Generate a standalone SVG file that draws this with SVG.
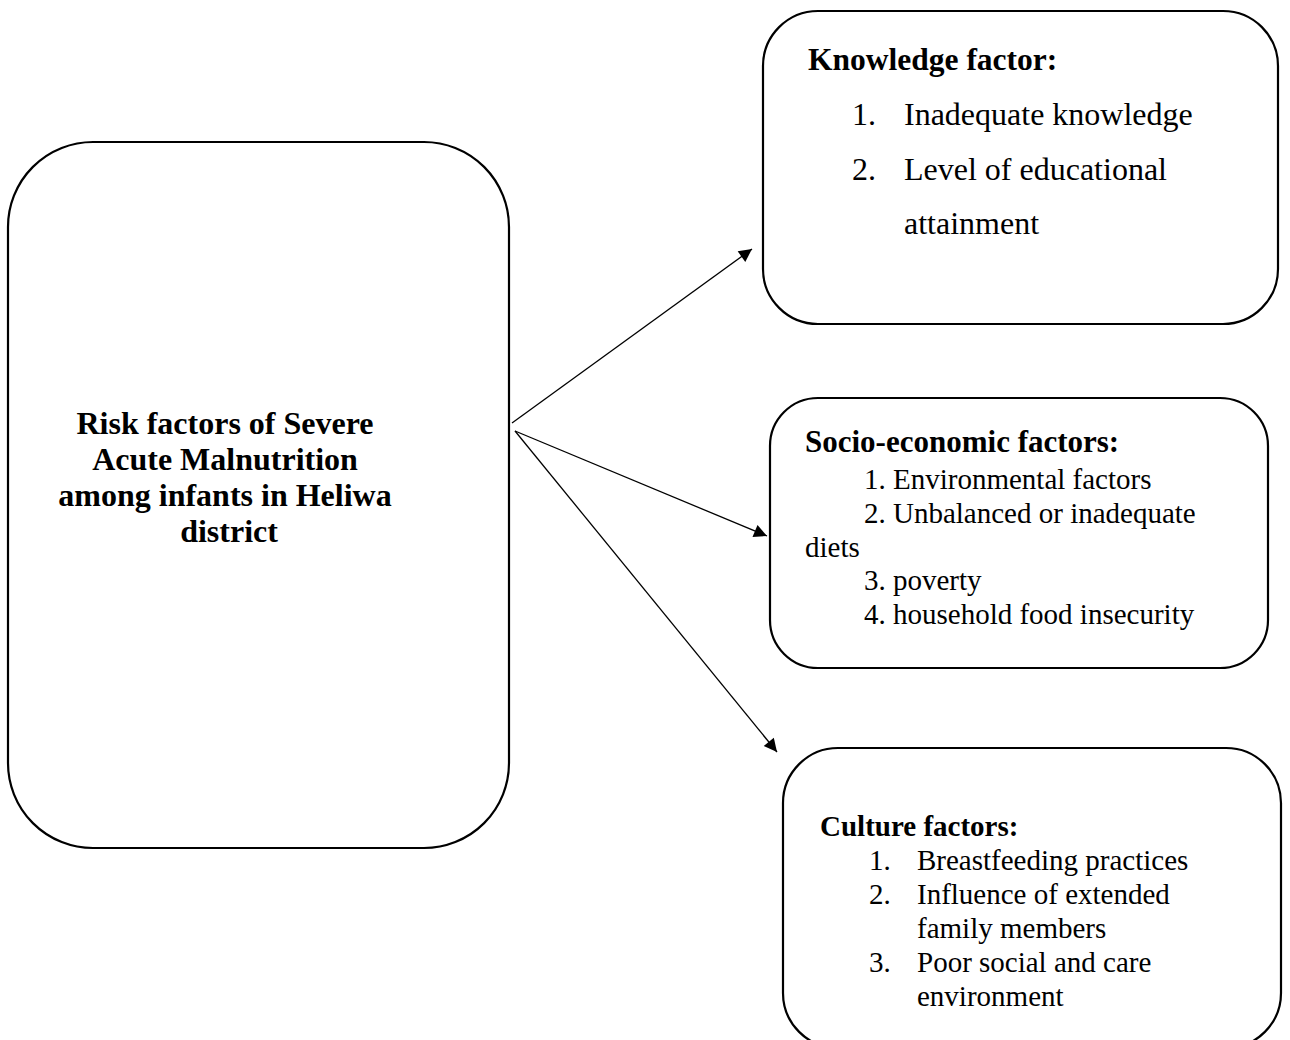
<svg xmlns="http://www.w3.org/2000/svg" width="1290" height="1040" viewBox="0 0 1290 1040">
<style>
.box{fill:#fff;stroke:#000;stroke-width:2.2}
.t{font-family:"Liberation Serif","Times New Roman",serif;fill:#000}
.b{font-weight:bold}
.conn{stroke:#000;stroke-width:1.3;fill:none}
</style>
<defs>
<marker id="ah" viewBox="0 0 10 10" refX="10" refY="5" markerWidth="18" markerHeight="13" markerUnits="userSpaceOnUse" orient="auto">
<path d="M0,0 L10,5 L0,10 z" fill="#000"/>
</marker>
</defs>
<rect width="1290" height="1040" fill="#fff"/>
<g id="main">
<rect class="box" x="8" y="142" width="501" height="706" rx="85" ry="85"/>
<text class="t b" font-size="32" text-anchor="middle">
<tspan x="229" y="434">Risk factors of Severe</tspan>
<tspan x="229" y="470">Acute Malnutrition</tspan>
<tspan x="229" y="506">among infants in Heliwa</tspan>
<tspan x="229" y="542">district</tspan>
</text>
</g>
<g id="knowledge">
<rect class="box" x="763" y="11" width="515" height="313" rx="55" ry="55"/>
<text class="t b" font-size="31.5" x="808" y="70">Knowledge factor:</text>
<text class="t" font-size="32"><tspan x="852" y="125">1.</tspan><tspan x="904" y="125">Inadequate knowledge</tspan></text>
<text class="t" font-size="32"><tspan x="852" y="180">2.</tspan><tspan x="904" y="180">Level of educational</tspan></text>
<text class="t" font-size="32" x="904" y="234">attainment</text>
</g>
<g id="socio">
<rect class="box" x="770" y="398" width="498" height="270" rx="48" ry="48"/>
<text class="t b" font-size="31" x="805" y="452">Socio-economic factors:</text>
<text class="t" font-size="29">
<tspan x="864" y="489">1. Environmental factors</tspan>
<tspan x="864" y="523">2. Unbalanced or inadequate</tspan>
<tspan x="805" y="557">diets</tspan>
<tspan x="864" y="590">3. poverty</tspan>
<tspan x="864" y="624">4. household food insecurity</tspan>
</text>
</g>
<g id="culture">
<rect class="box" x="783" y="748" width="498" height="300" rx="55" ry="55"/>
<text class="t b" font-size="29" x="820" y="836">Culture factors:</text>
<text class="t" font-size="29">
<tspan x="869" y="870">1.</tspan><tspan x="917" y="870">Breastfeeding practices</tspan>
<tspan x="869" y="904">2.</tspan><tspan x="917" y="904">Influence of extended</tspan>
<tspan x="917" y="938">family members</tspan>
<tspan x="869" y="972">3.</tspan><tspan x="917" y="972">Poor social and care</tspan>
<tspan x="917" y="1006">environment</tspan>
</text>
</g>
<g id="connectors">
<line class="conn" x1="512" y1="423" x2="752" y2="249" marker-end="url(#ah)"/>
<line class="conn" x1="515" y1="431" x2="767" y2="536" marker-end="url(#ah)"/>
<line class="conn" x1="515" y1="431" x2="777" y2="752" marker-end="url(#ah)"/>
</g>
</svg>
